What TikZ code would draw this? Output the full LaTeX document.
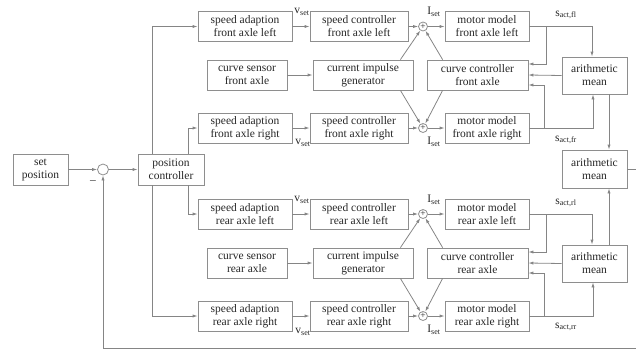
\documentclass[tikz,border=0pt]{standalone}
\usepackage{fontspec}
\setmainfont{Liberation Serif}
\usetikzlibrary{arrows.meta}
\definecolor{boxline}{HTML}{8E8E8E}
\definecolor{wire}{HTML}{858585}
\definecolor{ink}{HTML}{262626}
\begin{document}
\begin{tikzpicture}[x=1pt,y=-1pt,
  font=\fontsize{11.5}{13}\selectfont,
  blk/.style={draw=boxline, line width=0.8pt, align=center, inner sep=0pt,
              minimum height=30pt, text=ink},
  sumpt/.style={draw=boxline, line width=0.8pt, circle, inner sep=0pt,
                minimum size=9pt, text=ink, font=\fontsize{9.5}{9.5}\selectfont},
  lbl/.style={text=ink, inner sep=0pt},
  arr/.style={draw=wire, line width=0.8pt, -{Latex[length=5pt,width=3.2pt]}},
  wireline/.style={draw=wire, line width=0.8pt}]
\useasboundingbox (0,0) rectangle (636,351);

% input side
\node[blk, minimum width=55pt, minimum height=31pt] (setpos) at (40.5,169.5) {set\\position};
\node[sumpt, minimum size=11pt] (sum0) at (103,169.5) {};
\node[lbl] (minus) at (93,182) {–};
\node[blk, minimum width=66pt, minimum height=31pt] (posctl) at (171,169.5) {position\\controller};

% speed adaption
\node[blk, minimum width=94pt] (sa1) at (245,26.5) {speed adaption\\front axle left};
\node[blk, minimum width=94pt] (sa2) at (245,128) {speed adaption\\front axle right};
\node[blk, minimum width=94pt] (sa3) at (245,214) {speed adaption\\rear axle left};
\node[blk, minimum width=94pt] (sa4) at (245,316) {speed adaption\\rear axle right};

% curve sensors
\node[blk, minimum width=80pt] (cs1) at (247,75) {curve sensor\\front axle};
\node[blk, minimum width=80pt] (cs2) at (247,263) {curve sensor\\rear axle};

% speed controllers
\node[blk, minimum width=98pt] (sc1) at (359,26.5) {speed controller\\front axle left};
\node[blk, minimum width=98pt] (sc2) at (359,128) {speed controller\\front axle right};
\node[blk, minimum width=98pt] (sc3) at (359,214) {speed controller\\rear axle left};
\node[blk, minimum width=98pt] (sc4) at (359,316) {speed controller\\rear axle right};

% current impulse generators
\node[blk, minimum width=100pt] (cig1) at (363,75) {current impulse\\generator};
\node[blk, minimum width=100pt] (cig2) at (363,263) {current impulse\\generator};

% summing points
\node[sumpt] (s1) at (423,26.5) {+};
\node[sumpt] (s2) at (423,128) {+};
\node[sumpt] (s3) at (423,214) {+};
\node[sumpt] (s4) at (423,316) {+};

% motor models
\node[blk, minimum width=84pt] (mm1) at (487,26.5) {motor model\\front axle left};
\node[blk, minimum width=84pt] (mm2) at (487,128) {motor model\\front axle right};
\node[blk, minimum width=84pt] (mm3) at (487,214) {motor model\\rear axle left};
\node[blk, minimum width=84pt] (mm4) at (487,316) {motor model\\rear axle right};

% curve controllers
\node[blk, minimum width=101pt] (cc1) at (477.5,75) {curve controller\\front axle};
\node[blk, minimum width=101pt] (cc2) at (477.5,263) {curve controller\\rear axle};

% arithmetic means
\node[blk, minimum width=65pt, minimum height=37pt] (am1) at (594.5,75.5) {arithmetic\\mean};
\node[blk, minimum width=65pt, minimum height=38pt] (am0) at (594.5,169) {arithmetic\\mean};
\node[blk, minimum width=65pt, minimum height=37pt] (am2) at (594.5,263.5) {arithmetic\\mean};

% signal labels
\node[lbl] (v1) at (302,12) {v\textsubscript{set}};
\node[lbl] (v2) at (303,143) {v\textsubscript{set}};
\node[lbl] (v3) at (302,200) {v\textsubscript{set}};
\node[lbl] (v4) at (303,332) {v\textsubscript{set}};
\node[lbl] (i1) at (434,12) {I\textsubscript{set}};
\node[lbl] (i2) at (434,142) {I\textsubscript{set}};
\node[lbl] (i3) at (434,200) {I\textsubscript{set}};
\node[lbl] (i4) at (434,330) {I\textsubscript{set}};
\node[lbl] (a1) at (566,15) {s\textsubscript{act,fl}};
\node[lbl] (a2) at (566,140) {s\textsubscript{act,fr}};
\node[lbl] (a3) at (566,203) {s\textsubscript{act,rl}};
\node[lbl] (a4) at (566,327) {s\textsubscript{act,rr}};

% position loop
\draw[arr] (setpos.east) -- (sum0);
\draw[arr] (sum0) -- (posctl.west);
\draw[arr] ([xshift=-19pt]posctl.north) |- (sa1.west);
\draw[arr] ([xshift=17pt]posctl.north) |- (sa2.west);
\draw[arr] ([xshift=17pt]posctl.south) |- (sa3.west);
\draw[arr] ([xshift=-19pt]posctl.south) |- (sa4.west);

% speed paths
\foreach \k in {1,2,3,4} {
  \draw[arr] (sa\k.east) -- (sc\k.west);
  \draw[arr] (sc\k.east) -- (s\k);
  \draw[arr] (s\k) -- (mm\k.west);
}
\draw[arr] (cs1.east) -- (cig1.west);
\draw[arr] (cs2.east) -- (cig2.west);

% current impulses and curve corrections into the summing points
\draw[arr] ([xshift=-13pt]cig1.north east) -- (s1);
\draw[arr] ([xshift=-13pt]cig1.south east) -- (s2);
\draw[arr] ([xshift=16pt]cc1.north west) -- (s1);
\draw[arr] ([xshift=16pt]cc1.south west) -- (s2);
\draw[arr] ([xshift=-13pt]cig2.north east) -- (s3);
\draw[arr] ([xshift=-13pt]cig2.south east) -- (s4);
\draw[arr] ([xshift=16pt]cc2.north west) -- (s3);
\draw[arr] ([xshift=16pt]cc2.south west) -- (s4);

% measured positions, front axle
\draw[arr] (mm1.east) -| ([xshift=-2.5pt]am1.north);
\draw[arr] ([xshift=17pt]mm1.east) |- ([yshift=11pt]cc1.east);
\draw[arr] (am1.west) -- (cc1.east);
\draw[arr] (mm2.east) -| ([xshift=-1.5pt]am1.south);
\draw[arr] ([xshift=15pt]mm2.east) |- ([yshift=-10pt]cc1.east);

% measured positions, rear axle
\draw[arr] (mm3.east) -| ([xshift=-2.5pt]am2.north);
\draw[arr] ([xshift=17pt]mm3.east) |- ([yshift=11pt]cc2.east);
\draw[arr] (am2.west) -- (cc2.east);
\draw[arr] (mm4.east) -| ([xshift=-1.5pt]am2.south);
\draw[arr] ([xshift=15pt]mm4.east) |- ([yshift=-10pt]cc2.east);

% overall mean and feedback
\draw[arr] ([xshift=14.5pt]am1.south) -- ([xshift=14.5pt]am0.north);
\draw[arr] ([xshift=14.5pt]am2.north) -- ([xshift=14.5pt]am0.south);
\coordinate (fb) at (103,348.5);
\draw[arr] (am0.east) -- ++(13,0) |- (fb) -- (sum0);
\end{tikzpicture}
\end{document}
